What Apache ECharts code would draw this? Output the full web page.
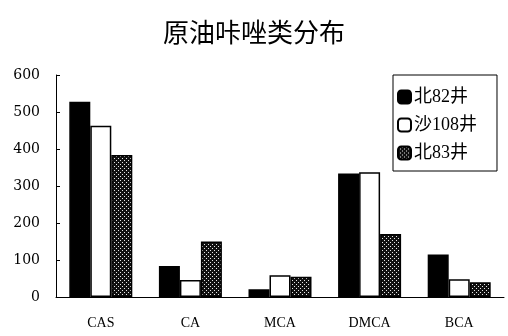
<!DOCTYPE html>
<html>
<head>
<meta charset="utf-8">
<script src="https://cdn.jsdelivr.net/npm/echarts@6/dist/echarts.min.js"></script>
<style>
  html, body { margin: 0; padding: 0; background: #fff; }
  #chart { width: 508px; height: 336px; }
</style>
</head>
<body>
<div id="chart"></div>
<script>
// Carbazole compound distribution in crude oils from three wells
const categories = ['CAS', 'CA', 'MCA', 'DMCA', 'BCA'];
const seriesNames = ['北82井', '沙108井', '北83井'];
const bei82 = [528, 84, 21, 334, 115];
const sha108 = [463, 46, 59, 337, 48];
const bei83 = [384, 150, 55, 170, 40];
const yTicks = [0, 100, 200, 300, 400, 500, 600];

// dotted fill: dark ground with light dots
function dotPattern() {
  const c = document.createElement('canvas');
  c.width = 4; c.height = 4;
  const g = c.getContext('2d');
  g.fillStyle = '#111';
  g.fillRect(0, 0, 4, 4);
  g.fillStyle = '#e8e8e8';
  g.fillRect(0, 0, 1, 1);
  g.fillRect(2, 2, 1, 1);
  return c;
}

const fills = ['#000', '#fff', { image: dotPattern(), repeat: 'repeat' }];
const values = [bei82, sha108, bei83];

const chart = echarts.init(document.getElementById('chart'), null, { renderer: 'canvas' });
chart.setOption({
  animation: false,
  backgroundColor: '#fff',
  title: {
    text: '原油咔唑类分布',
    left: 'center',
    top: 14,
    textStyle: { fontFamily: 'Noto Sans CJK SC', fontSize: 26, fontWeight: 'normal', color: '#000' }
  },
  legend: {
    orient: 'vertical',
    left: 393,
    top: 75,
    padding: [12, 20, 8, 4],
    itemGap: 8,
    itemWidth: 13,
    itemHeight: 13,
    borderColor: '#000',
    borderWidth: 1,
    textStyle: { fontFamily: 'Liberation Serif, Noto Sans CJK SC', fontSize: 18, lineHeight: 20, color: '#000', padding: [0, 0, 0, -2] },
    data: seriesNames
  },
  grid: { left: 56, right: 4, top: 75, bottom: 39, containLabel: false },
  xAxis: {
    type: 'category',
    data: categories,
    axisLine: { lineStyle: { color: '#000', width: 1 } },
    axisTick: { inside: true, length: 4, alignWithLabel: false, lineStyle: { color: '#000' } },
    axisLabel: { margin: 19, fontFamily: 'Liberation Serif', fontSize: 14, color: '#000' }
  },
  yAxis: {
    type: 'value',
    min: yTicks[0],
    max: yTicks[yTicks.length - 1],
    interval: 100,
    axisLine: { show: true, lineStyle: { color: '#000', width: 1 } },
    axisTick: { show: true, inside: true, length: 4, lineStyle: { color: '#000' } },
    splitLine: { show: false },
    axisLabel: { margin: 16, fontFamily: 'DejaVu Serif', fontSize: 14, color: '#000' }
  },
  series: seriesNames.map((name, i) => ({
    name,
    type: 'bar',
    data: values[i],
    barWidth: 21,
    barGap: '0%',
    itemStyle: { color: fills[i], borderColor: '#000', borderWidth: 1.5 }
  }))
});
</script>
</body>
</html>
